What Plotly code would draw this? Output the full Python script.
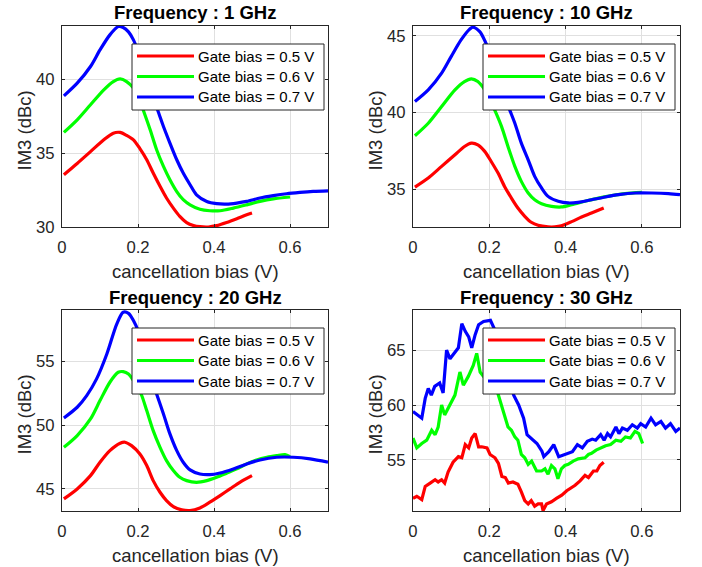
import plotly.graph_objects as go

W, H = 702, 567

series_names = ["Gate bias = 0.5 V", "Gate bias = 0.6 V", "Gate bias = 0.7 V"]
series_colors = ["#ff0000", "#00ff00", "#0000ff"]
panel_titles = ["Frequency : 1 GHz", "Frequency : 10 GHz", "Frequency : 20 GHz", "Frequency : 30 GHz"]
x_title = "cancellation bias (V)"
y_title = "IM3 (dBc)"
x_ticks = [0, 0.2, 0.4, 0.6]
x_tick_labels = ["0", "0.2", "0.4", "0.6"]
y_ticks = [[30, 35, 40], [35, 40, 45], [45, 50, 55], [55, 60, 65]]
x_range = [0, 0.7]
y_ranges = [[30.0, 43.6], [32.52, 45.65], [43.27, 59.02], [50.36, 68.64]]

# ---- 1 GHz ----
f1_r_x = [0.005, 0.04, 0.075, 0.11, 0.135, 0.153, 0.17, 0.188, 0.205, 0.223, 0.24, 0.258, 0.275, 0.293, 0.31, 0.328, 0.346, 0.363, 0.385, 0.407, 0.433, 0.46, 0.486, 0.5]
f1_r_y = [33.54, 34.3, 35.1, 35.9, 36.35, 36.4, 36.2, 35.9, 35.3, 34.55, 33.65, 32.75, 31.96, 31.28, 30.72, 30.3, 30.1, 30.02, 30.0, 30.09, 30.3, 30.56, 30.83, 30.95]
f1_g_x = [0.005, 0.04, 0.075, 0.11, 0.135, 0.153, 0.17, 0.188, 0.2, 0.214, 0.232, 0.249, 0.267, 0.284, 0.302, 0.319, 0.337, 0.363, 0.389, 0.416, 0.451, 0.486, 0.521, 0.556, 0.6]
f1_g_y = [36.4, 37.25, 38.27, 39.28, 39.84, 40.02, 39.84, 39.4, 38.9, 37.9, 36.58, 35.23, 34.1, 33.2, 32.4, 31.85, 31.5, 31.2, 31.1, 31.1, 31.28, 31.5, 31.73, 31.9, 32.03]
f1_b_x = [0.005, 0.04, 0.075, 0.1, 0.126, 0.148, 0.161, 0.175, 0.188, 0.2, 0.215, 0.23, 0.245, 0.256, 0.267, 0.284, 0.302, 0.319, 0.337, 0.354, 0.381, 0.407, 0.433, 0.46, 0.486, 0.521, 0.556, 0.591, 0.626, 0.661, 0.7]
f1_b_y = [38.87, 39.73, 40.86, 41.98, 43.0, 43.56, 43.5, 43.2, 42.66, 41.9, 40.8, 39.6, 38.4, 37.6, 36.8, 35.68, 34.55, 33.65, 32.86, 32.18, 31.73, 31.58, 31.55, 31.62, 31.73, 31.96, 32.12, 32.25, 32.34, 32.41, 32.45]

# ---- 10 GHz ----
f10_r_x = [0.005, 0.04, 0.075, 0.11, 0.135, 0.153, 0.17, 0.188, 0.205, 0.223, 0.24, 0.258, 0.275, 0.293, 0.31, 0.328, 0.354, 0.372, 0.389, 0.416, 0.442, 0.468, 0.5]
f10_r_y = [35.13, 35.72, 36.48, 37.24, 37.78, 38.0, 37.89, 37.46, 36.8, 36.04, 35.17, 34.41, 33.76, 33.22, 32.83, 32.63, 32.53, 32.53, 32.6, 32.87, 33.17, 33.43, 33.76]
f10_g_x = [0.005, 0.04, 0.075, 0.11, 0.135, 0.153, 0.17, 0.188, 0.2, 0.214, 0.232, 0.249, 0.267, 0.284, 0.302, 0.319, 0.337, 0.363, 0.389, 0.416, 0.451, 0.486, 0.521, 0.556, 0.6]
f10_g_y = [38.48, 39.3, 40.39, 41.48, 42.02, 42.2, 42.02, 41.48, 40.9, 40.17, 39.09, 37.78, 36.48, 35.5, 34.74, 34.3, 34.04, 33.87, 33.83, 33.98, 34.2, 34.41, 34.57, 34.7, 34.78]
f10_b_x = [0.005, 0.04, 0.075, 0.1, 0.126, 0.148, 0.157, 0.175, 0.19, 0.205, 0.22, 0.235, 0.25, 0.267, 0.284, 0.302, 0.319, 0.337, 0.354, 0.381, 0.407, 0.433, 0.468, 0.504, 0.539, 0.582, 0.626, 0.67, 0.7]
f10_b_y = [40.72, 41.48, 42.57, 43.65, 44.74, 45.43, 45.57, 45.28, 44.6, 43.7, 42.6, 41.5, 40.4, 39.3, 38.0, 36.91, 35.83, 35.07, 34.52, 34.2, 34.09, 34.13, 34.3, 34.48, 34.63, 34.74, 34.74, 34.7, 34.63]

# ---- 20 GHz ----
f20_r_x = [0.005, 0.04, 0.075, 0.1, 0.126, 0.153, 0.166, 0.183, 0.205, 0.223, 0.24, 0.258, 0.275, 0.293, 0.315, 0.337, 0.363, 0.389, 0.416, 0.442, 0.468, 0.5]
f20_r_y = [44.22, 45.0, 46.04, 47.09, 48.0, 48.58, 48.66, 48.39, 47.74, 46.83, 45.65, 44.74, 44.09, 43.62, 43.36, 43.3, 43.51, 43.96, 44.48, 45.0, 45.52, 46.04]
f20_g_x = [0.005, 0.04, 0.075, 0.1, 0.126, 0.148, 0.161, 0.175, 0.19, 0.2, 0.21, 0.223, 0.24, 0.258, 0.275, 0.293, 0.31, 0.328, 0.354, 0.381, 0.407, 0.433, 0.46, 0.486, 0.512, 0.539, 0.565, 0.587, 0.6]
f20_g_y = [48.26, 49.18, 50.48, 51.92, 53.36, 54.14, 54.19, 54.0, 53.4, 52.9, 52.3, 51.14, 49.57, 48.26, 47.22, 46.44, 45.91, 45.65, 45.52, 45.65, 45.91, 46.23, 46.57, 46.96, 47.27, 47.48, 47.61, 47.69, 47.53]
f20_b_x = [0.005, 0.04, 0.065, 0.091, 0.118, 0.144, 0.161, 0.175, 0.188, 0.2, 0.215, 0.23, 0.249, 0.267, 0.284, 0.302, 0.319, 0.337, 0.363, 0.389, 0.416, 0.451, 0.486, 0.521, 0.565, 0.609, 0.653, 0.7]
f20_b_y = [50.56, 51.4, 52.31, 53.62, 55.57, 57.92, 58.84, 58.76, 58.19, 57.4, 55.9, 54.2, 52.44, 50.87, 49.31, 48.0, 47.09, 46.49, 46.17, 46.12, 46.25, 46.57, 46.96, 47.27, 47.48, 47.48, 47.35, 47.09]

# ---- 30 GHz ----
f30_r_x = [0.0, 0.01, 0.023, 0.032, 0.045, 0.058, 0.066, 0.075, 0.083, 0.092, 0.105, 0.119, 0.128, 0.137, 0.146, 0.154, 0.163, 0.172, 0.18, 0.194, 0.202, 0.215, 0.224, 0.233, 0.242, 0.25, 0.262, 0.275, 0.284, 0.293, 0.302, 0.31, 0.319, 0.328, 0.337, 0.341, 0.35, 0.363, 0.376, 0.39, 0.403, 0.416, 0.425, 0.438, 0.451, 0.46, 0.473, 0.482, 0.49, 0.5]
f30_r_y = [51.5, 51.7, 51.4, 52.6, 52.9, 53.2, 53.0, 53.2, 52.9, 53.9, 54.8, 55.3, 55.2, 56.4, 56.1, 57.0, 57.4, 56.2, 56.2, 56.1, 55.5, 55.2, 54.7, 53.5, 53.4, 52.9, 53.0, 52.8, 52.1, 51.3, 51.0, 51.3, 50.8, 51.0, 51.0, 50.4, 51.0, 51.2, 51.5, 51.8, 52.2, 52.5, 52.7, 53.1, 53.6, 53.4, 54.0, 54.0, 54.5, 54.8]
f30_g_x = [0.0, 0.01, 0.023, 0.036, 0.049, 0.058, 0.066, 0.075, 0.083, 0.092, 0.101, 0.11, 0.123, 0.132, 0.145, 0.158, 0.167, 0.176, 0.185, 0.195, 0.205, 0.214, 0.223, 0.236, 0.249, 0.258, 0.267, 0.275, 0.284, 0.293, 0.302, 0.311, 0.324, 0.337, 0.346, 0.354, 0.363, 0.372, 0.38, 0.389, 0.398, 0.407, 0.42, 0.433, 0.451, 0.46, 0.468, 0.48, 0.492, 0.505, 0.518, 0.532, 0.545, 0.557, 0.57, 0.582, 0.592, 0.602]
f30_g_y = [57.0, 56.1, 56.5, 56.8, 57.7, 57.3, 58.0, 60.0, 59.1, 59.7, 60.3, 60.9, 63.0, 61.8, 62.6, 63.6, 64.7, 63.0, 62.6, 62.4, 62.8, 62.0, 61.0, 59.5, 58.0, 57.7, 57.1, 56.8, 55.5, 55.2, 54.6, 54.9, 54.0, 54.0, 54.2, 53.7, 54.5, 54.2, 53.3, 54.2, 54.5, 54.6, 54.9, 55.1, 55.2, 55.5, 55.6, 55.9, 56.1, 56.3, 56.4, 56.8, 56.7, 57.1, 57.0, 57.6, 57.4, 56.5]
f30_b_x = [0.0, 0.01, 0.023, 0.032, 0.04, 0.048, 0.057, 0.07, 0.079, 0.088, 0.097, 0.11, 0.119, 0.128, 0.137, 0.146, 0.154, 0.163, 0.172, 0.185, 0.203, 0.215, 0.23, 0.245, 0.264, 0.277, 0.29, 0.299, 0.308, 0.317, 0.325, 0.338, 0.343, 0.356, 0.369, 0.382, 0.396, 0.404, 0.418, 0.431, 0.444, 0.457, 0.47, 0.479, 0.492, 0.501, 0.51, 0.518, 0.532, 0.54, 0.549, 0.562, 0.575, 0.588, 0.597, 0.61, 0.624, 0.636, 0.65, 0.662, 0.675, 0.689, 0.7]
f30_b_y = [59.4, 59.1, 58.8, 60.6, 61.5, 60.9, 61.7, 62.0, 61.1, 65.0, 64.2, 64.8, 65.2, 67.4, 66.7, 66.2, 65.2, 66.4, 67.3, 67.6, 67.7, 66.8, 65.0, 63.0, 60.9, 60.0, 58.8, 57.3, 57.0, 56.8, 56.5, 55.8, 55.3, 55.75, 56.4, 55.3, 55.45, 55.6, 55.75, 56.4, 56.1, 56.7, 56.9, 56.8, 57.3, 56.8, 57.4, 57.1, 58.0, 57.4, 57.9, 57.7, 58.2, 57.9, 58.3, 58.0, 58.8, 58.2, 58.5, 57.9, 58.3, 57.6, 57.9]

panels_data = [
    [(f1_r_x, f1_r_y), (f1_g_x, f1_g_y), (f1_b_x, f1_b_y)],
    [(f10_r_x, f10_r_y), (f10_g_x, f10_g_y), (f10_b_x, f10_b_y)],
    [(f20_r_x, f20_r_y), (f20_g_x, f20_g_y), (f20_b_x, f20_b_y)],
    [(f30_r_x, f30_r_y), (f30_g_x, f30_g_y), (f30_b_x, f30_b_y)],
]
panel_smooth = [True, True, True, False]

# pixel boxes of the axes: left, right, top, bottom
boxes = [(62, 328, 26, 227), (413, 680, 26, 227), (62, 328, 310, 511), (413, 680, 310, 511)]

FONT = "Liberation Sans, Arial, Helvetica, sans-serif"
AX = "#262626"
GRID = "#e0e0e0"


def px(x):
    return x / W


def py(y):
    return 1 - y / H


fig = go.Figure()
layout = dict(
    width=W, height=H, autosize=False, margin=dict(l=0, r=0, t=0, b=0, pad=0),
    paper_bgcolor="white", plot_bgcolor="white", showlegend=False,
    font=dict(family=FONT, color=AX),
)
shapes = []
annotations = []

for i, (L, R, T, B) in enumerate(boxes):
    n = "" if i == 0 else str(i + 1)
    xa, ya = "x" + n, "y" + n
    for (xs, ys), name, col in zip(panels_data[i], series_names, series_colors):
        fig.add_trace(go.Scatter(
            x=xs, y=ys, mode="lines", name=name, xaxis=xa, yaxis=ya,
            line=dict(color=col, width=3.2, shape="spline" if panel_smooth[i] else "linear",
                      smoothing=0.8),
        ))
    common = dict(showline=True, linecolor=AX, linewidth=1, mirror="ticks",
                  ticks="inside", ticklen=3, tickcolor=AX, showgrid=True, gridcolor=GRID,
                  gridwidth=1, zeroline=False, tickfont=dict(family=FONT, size=16.7, color=AX),
                  fixedrange=True, automargin=False)
    layout["xaxis" + n] = dict(common, domain=[px(L), px(R)], range=x_range,
                               tickvals=x_ticks, ticktext=x_tick_labels, anchor=ya,
                               ticklabelstandoff=5)
    layout["yaxis" + n] = dict(common, domain=[py(B), py(T)], range=y_ranges[i],
                               tickvals=y_ticks[i], anchor=xa, ticklabelstandoff=3)
    cx = (L + R) / 2
    annotations.append(dict(text="<b>" + panel_titles[i] + "</b>", x=px(cx), y=py(T - 13),
                            xref="paper", yref="paper", xanchor="center", yanchor="middle",
                            showarrow=False, font=dict(family=FONT, size=18.5, color="black")))
    annotations.append(dict(text=x_title, x=px(cx), y=py(B + 44), xref="paper", yref="paper",
                            xanchor="center", yanchor="middle", showarrow=False,
                            font=dict(family=FONT, size=18.5, color=AX)))
    annotations.append(dict(text=y_title, x=px(L - 38), y=py((T + B) / 2 + 4), xref="paper",
                            yref="paper", xanchor="center", yanchor="middle", textangle=-90,
                            showarrow=False, font=dict(family=FONT, size=18.5, color=AX)))
    # legend box
    bl, br, bt, bb = L + 70, L + 262, T + 18, T + 84
    shapes.append(dict(type="rect", xref="paper", yref="paper", x0=px(bl), x1=px(br),
                       y0=py(bb), y1=py(bt), fillcolor="white", line=dict(color=AX, width=1),
                       layer="above"))
    for k, (name, col) in enumerate(zip(series_names, series_colors)):
        ry = bt + 12 + k * 20.5
        shapes.append(dict(type="line", xref="paper", yref="paper", x0=px(bl + 5), x1=px(bl + 62),
                           y0=py(ry), y1=py(ry), line=dict(color=col, width=3.2), layer="above"))
        annotations.append(dict(text=name, x=px(bl + 64), y=py(ry), xref="paper", yref="paper",
                                xanchor="left", yanchor="middle", showarrow=False,
                                font=dict(family=FONT, size=15, color="black")))

layout["shapes"] = shapes
layout["annotations"] = annotations
fig.update_layout(**layout)
fig.write_html("out.html", config={"displayModeBar": False, "responsive": False},
               default_width="702px", default_height="567px",
               post_script="document.body.style.margin='0';document.body.style.overflow='hidden';")
